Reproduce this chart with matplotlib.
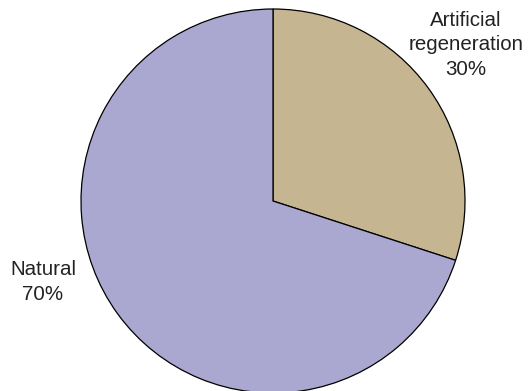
import matplotlib.pyplot as plt

plt.rcParams['font.family'] = ['Liberation Sans', 'DejaVu Sans']

# Data
labels = ["Artificial\nregeneration\n30%", "Natural\n70%"]
shares = [30, 70]
colors = ["#C6B591", "#AAA8D1"]

W, H = 529, 391
fig = plt.figure(figsize=(W / 100, H / 100), dpi=100)

# pie centre (273, 201) px, radius 192 px
cx, cy, r = 273, 201, 192
ax = fig.add_axes([(cx - r) / W, (H - cy - r) / H, 2 * r / W, 2 * r / H])
ax.pie(shares, colors=colors, startangle=90, counterclock=False,
       radius=1, wedgeprops=dict(edgecolor="black", linewidth=0.9))
ax.set_xlim(-1, 1)
ax.set_ylim(-1, 1)
ax.set_aspect("equal")
ax.axis("off")

# labels outside the pie
label_pos = [(466, 45), (43, 282)]
for text, (x, y) in zip(labels, label_pos):
    fig.text(x / W, 1 - y / H, text, ha="center", va="center",
             multialignment="center", fontsize=14.8, linespacing=1.38,
             color="#222222")

fig.savefig("out.png", dpi=100)
